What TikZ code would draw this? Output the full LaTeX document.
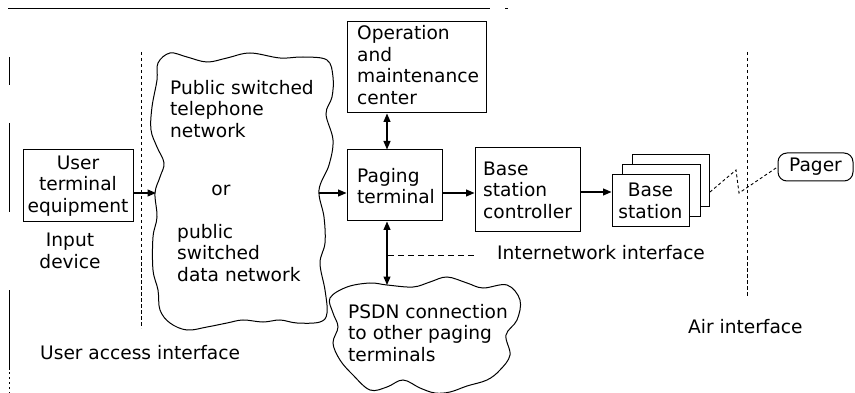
\documentclass[tikz,border=0pt]{standalone}
\usepackage{fontspec}
\setmainfont{DejaVu Sans}
\usetikzlibrary{arrows.meta}
\begin{document}
\begin{tikzpicture}[x=1pt,y=-1pt,
  every node/.style={font=\fontsize{18.6}{21.5}\selectfont, inner sep=0pt},
  blk/.style={draw, line width=1pt},
  lbl/.style={align=left, anchor=west},
  arr/.style={line width=1.1pt, -{Triangle[length=8.5pt,width=7pt]}},
  darr/.style={line width=1.1pt, {Triangle[length=8.5pt,width=7pt]}-{Triangle[length=8.5pt,width=7pt]}},
  iface/.style={line width=0.9pt, dash pattern=on 3.5pt off 2.5pt},
  cloudline/.style={line width=1pt}]
\useasboundingbox (0,0) rectangle (855,393);

% scan rule along the top and edge marks on the left
\draw[line width=0.8pt] (8,8) -- (490,8);
\draw[line width=0.8pt] (505,8) -- (508,8);
\draw[line width=0.8pt] (9,57) -- (9,85);
\draw[line width=0.8pt] (9,123) -- (9,212);
\draw[line width=0.8pt] (9,290) -- (9,370);
\draw[line width=0.8pt, dash pattern=on 2pt off 3pt] (9,372) -- (9,393);

% interface boundaries
\draw[iface] (141,52) -- (141,328);
\draw[iface] (747,52) -- (747,297);
\coordinate (ii) at (477,255);

% switched network cloud
\draw[cloudline] plot[smooth cycle, tension=0.6] coordinates {
 (158,63) (170,53) (187,57) (207,62) (227,58) (250,53) (280,58) (303,57) (327,60)
 (333,77) (332,97) (326,114) (333,140) (329,165) (319,190) (324,217) (325,243)
 (320,263) (325,290) (327,313) (320,322) (297,323) (280,320) (263,322) (243,320)
 (227,323) (207,327) (187,330) (170,323) (160,310) (158,290) (153,270) (153,237)
 (157,217) (155,193) (160,177) (164,163) (157,147) (151,130) (152,107) (157,80)};
\coordinate (cin) at (156,193);
\coordinate (cout) at (319,193);

% PSDN cloud
\draw[cloudline] plot[smooth cycle, tension=0.6] coordinates {
 (330,298) (347,287) (370,283) (387,285) (413,287) (430,282) (447,277) (467,283)
 (483,288) (507,285) (520,300) (517,320) (506,335) (510,355) (500,370) (487,380)
 (467,386) (450,392) (435,393) (420,388) (403,380) (387,387) (370,390) (353,375)
 (340,360) (333,343) (338,327) (333,313)};
\coordinate (psdn) at (387,285);

% boxes
\node[blk, minimum width=110pt, minimum height=72pt] (ute) at (78,186) {};
\node[align=center] at (78,186) {User\\terminal\\equipment};
\node[align=center] at (70,251) {Input\\device};

\node[blk, minimum width=139pt, minimum height=91pt] (om) at (416.5,67.5) {};
\node[lbl] at (357,65) {Operation\\and\\maintenance\\center};

\node[blk, minimum width=95pt, minimum height=71pt] (pt) at (394.5,185.5) {};
\node[lbl] at (357,186) {Paging\\terminal};

\node[blk, minimum width=105pt, minimum height=84pt] (bsc) at (527.5,190) {};
\node[lbl] at (483,190) {Base\\station\\controller};

% stacked base stations
\draw[line width=1pt, fill=white] (632,155) rectangle (709,207);
\draw[line width=1pt, fill=white] (622,165) rectangle (700,217);
\node[blk, fill=white, minimum width=77pt, minimum height=52pt] (bs) at (650.5,201) {};
\node[align=center] at (650.5,201) {Base\\station};

\node[draw, line width=1pt, rounded corners=9pt, minimum width=75pt, minimum height=28pt] (pager) at (815.5,167) {Pager};

% radio link
\draw[line width=0.9pt, dash pattern=on 3pt off 2.5pt] (710,192) -- (736,170) -- (739,193) -- (pager.west);

% text labels
\node[lbl] at (170,109) {Public switched\\telephone\\network};
\node at (221,190) {or};
\node[lbl] at (177,253) {public\\switched\\data network};
\node[lbl] at (348,333) {PSDN connection\\to other paging\\terminals};
\node[lbl] (iitext) at (497,253) {Internetwork interface};
\node[lbl] at (40,353) {User access interface};
\node[lbl] at (688,327) {Air interface};

% connectors
\draw[arr] (ute.east |- cin) -- (cin);
\draw[arr] (cout) -- (pt.west |- cout);
\draw[arr] (pt.east |- 0,193) -- (bsc.west |- 0,193);
\draw[arr] (bsc.east |- 0,192) -- (bs.west |- 0,192);
\draw[darr] (om.south -| 387,0) -- (pt.north -| 387,0);
\draw[darr] (pt.south -| 387,0) -- (psdn);
\draw[line width=0.9pt, dash pattern=on 6pt off 4pt] (388,255) -- (ii);
\end{tikzpicture}
\end{document}
